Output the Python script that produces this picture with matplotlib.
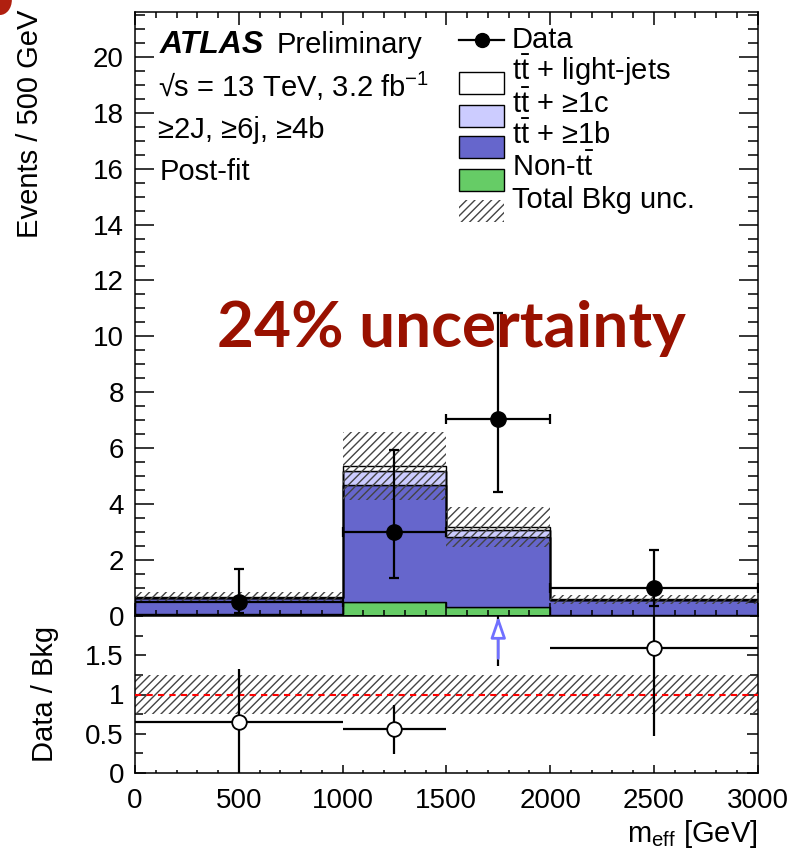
import numpy as np
import matplotlib
matplotlib.use('Agg')
import matplotlib.pyplot as plt
from matplotlib.patches import Rectangle, Ellipse
from matplotlib.ticker import MultipleLocator, FixedLocator, FuncFormatter

plt.rcParams['font.family'] = ['Liberation Sans', 'DejaVu Sans']
plt.rcParams['mathtext.fontset'] = 'custom'
plt.rcParams['mathtext.rm'] = 'Liberation Sans'
plt.rcParams['mathtext.it'] = 'Liberation Sans:italic'
plt.rcParams['mathtext.bf'] = 'Liberation Sans:bold'
plt.rcParams['hatch.linewidth'] = 1.0

# ---------------- data ----------------
bin_edges = [0, 1000, 1500, 2000, 3000]
non_tt   = [0.08, 0.50, 0.33, 0.05]
tt_1b    = [0.55, 4.18, 2.48, 0.51]
tt_1c    = [0.02, 0.50, 0.26, 0.02]
tt_light = [0.04, 0.18, 0.10, 0.02]
bkg_unc  = [0.17, 1.22, 0.72, 0.16]
data     = [0.49, 3.00, 7.04, 0.99]
data_lo  = [0.10, 1.36, 4.43, 0.36]
data_hi  = [1.68, 5.93, 10.82, 2.36]
ratio    = [0.65, 0.56, 2.22, 1.59]
ratio_lo = [0.0, 0.24, 1.36, 0.47]
ratio_hi = [1.32, 0.87, 3.40, 3.70]
ratio_unc = [0.245, 0.245, 0.245, 0.245]
legend_labels = ['Data', r'$\mathrm{t\bar{t}}$ + light-jets', r'$\mathrm{t\bar{t}}$ + ≥1c',
                 r'$\mathrm{t\bar{t}}$ + ≥1b', r'Non-$\mathrm{t\bar{t}}$', 'Total Bkg unc.']

edges = np.array(bin_edges, dtype=float)
centers = 0.5 * (edges[:-1] + edges[1:])
halfw = 0.5 * np.diff(edges)

W, H = 790, 857
fig = plt.figure(figsize=(W / 100, H / 100), dpi=100)
L, R = 135, 757.7
ax = fig.add_axes([L / W, 1 - 616 / H, (R - L) / W, 604 / H])
rax = fig.add_axes([L / W, 1 - 773 / H, (R - L) / W, 157 / H], sharex=ax)

col_non = '#66cc66'
col_1b = '#6666cc'
col_1c = '#ccccff'
col_light = 'white'
hatch_col = '#444444'
HATCH = '////'

# ---------------- stack ----------------
base = np.zeros(len(centers))
for vals, c in [(non_tt, col_non), (tt_1b, col_1b), (tt_1c, col_1c), (tt_light, col_light)]:
    top = base + np.array(vals)
    ax.stairs(top, edges, baseline=base, fill=True, facecolor=c, edgecolor='black', lw=1.0, zorder=1.5)
    base = top
total = base
unc = np.array(bkg_unc)
ax.stairs(total + unc, edges, baseline=total - unc, fill=True, facecolor='none',
          edgecolor=hatch_col, hatch=HATCH, lw=0, zorder=2)

d = np.array(data)
ax.errorbar(centers, d, xerr=halfw, yerr=[d - np.array(data_lo), np.array(data_hi) - d],
            fmt='o', color='black', ms=11, lw=1.6, capsize=3.5, capthick=1.6, zorder=5,
            clip_on=True)

ax.set_xlim(0, 3000)
ax.set_ylim(0, 21.6)
ax.xaxis.set_major_locator(MultipleLocator(500))
ax.xaxis.set_minor_locator(MultipleLocator(100))
ax.yaxis.set_major_locator(MultipleLocator(2))
ax.yaxis.set_minor_locator(MultipleLocator(0.5))
ax.tick_params(axis='both', which='both', direction='in', top=True, right=True, width=1.1)
ax.tick_params(axis='y', which='major', length=14)
ax.tick_params(axis='y', which='minor', length=7)
ax.tick_params(axis='x', which='major', length=9.5)
ax.tick_params(axis='x', which='minor', length=4.5)
ax.tick_params(labelbottom=False, labelsize=20, pad=8)
for s in ax.spines.values():
    s.set_linewidth(1.1)

# ---------------- texts ----------------
fs = 21
ax.text(0.039, 0.9316, 'ATLAS', transform=ax.transAxes, fontsize=23, fontweight='bold',
        fontstyle='italic', va='baseline')
ax.text(0.2275, 0.9316, 'Preliminary', transform=ax.transAxes, fontsize=fs, va='baseline')
ax.text(0.0375, 0.860, '√s = 13 TeV, 3.2 fb$^{-1}$', transform=ax.transAxes, fontsize=fs, va='baseline')
ax.text(0.0375, 0.791, '≥2J, ≥6j, ≥4b', transform=ax.transAxes, fontsize=fs, va='baseline')
ax.text(0.039, 0.722, 'Post-fit', transform=ax.transAxes, fontsize=fs, va='baseline')

ax.text(0.1317, 0.4454, '24% uncertainty', transform=ax.transAxes, fontsize=46,
        fontweight='bold', family=['Lato', 'DejaVu Sans'], color='#991100', va='baseline', zorder=4)

# ---------------- legend (manual) ----------------
bx0, bx1, tx = 0.521, 0.592, 0.605
box_c = [0.9536, 0.8820, 0.8282, 0.7757, 0.7219, 0.6705]
base_y = [0.9396, 0.8866, 0.8336, 0.7815, 0.7285, 0.6755]
bh = 0.0364
ax.plot([bx0, bx1], [box_c[0], box_c[0]], color='black', lw=1.6, transform=ax.transAxes, clip_on=False)
ax.plot([(bx0 + bx1) / 2], [box_c[0]], 'o', color='black', ms=10, transform=ax.transAxes, clip_on=False)
for i, c in zip([1, 2, 3, 4], [col_light, col_1c, col_1b, col_non]):
    ax.add_patch(Rectangle((bx0, box_c[i] - bh / 2), bx1 - bx0, bh, transform=ax.transAxes,
                           facecolor=c, edgecolor='black', lw=1.0, clip_on=False))
ax.add_patch(Rectangle((bx0, box_c[5] - bh / 2), bx1 - bx0, bh, transform=ax.transAxes,
                       facecolor='none', edgecolor=hatch_col, hatch=HATCH, lw=0, clip_on=False))
for lab, y in zip(legend_labels, base_y):
    ax.text(tx, y, lab, transform=ax.transAxes, fontsize=fs, va='baseline')

# ---------------- ratio ----------------
ru = np.array(ratio_unc)
rax.stairs(1 + ru, edges, baseline=1 - ru, fill=True, facecolor='none', edgecolor=hatch_col,
           hatch=HATCH, lw=0, zorder=2)
rax.axhline(1, color='red', ls=(0, (3, 2.5)), lw=1.5, zorder=3)
r = np.array(ratio)
rax.errorbar(centers, r, xerr=halfw, yerr=[r - np.array(ratio_lo), np.array(ratio_hi) - r],
             fmt='o', mfc='white', mec='black', color='black', ms=10.5, mew=1.3, lw=1.6,
             capsize=0, zorder=5)
# off-scale point marker (arrow)
for x, v in zip(centers, r):
    if v > 2.0:
        rax.annotate('', xy=(x, 2.0), xytext=(x, 1.46), xycoords='data',
                     arrowprops=dict(arrowstyle='-|>,head_length=1.3,head_width=0.45',
                                     ec='#7070ff', fc='white', lw=2.0, shrinkA=0, shrinkB=0),
                     annotation_clip=False, zorder=6)

rax.set_ylim(0, 2)
rax.yaxis.set_major_locator(FixedLocator([0, 0.5, 1, 1.5]))
rax.yaxis.set_minor_locator(MultipleLocator(0.25))
rax.yaxis.set_major_formatter(FuncFormatter(lambda v, p: '%g' % v))
rax.tick_params(axis='both', which='both', direction='in', right=True, top=False, width=1.1)
rax.tick_params(axis='y', which='major', length=8)
rax.tick_params(axis='y', which='minor', length=6)
rax.tick_params(axis='x', which='major', length=5.5)
rax.tick_params(axis='x', which='minor', length=2.5)
rax.tick_params(axis='both', labelsize=20)
rax.tick_params(axis='y', pad=8)
rax.tick_params(axis='x', pad=11)
for s in rax.spines.values():
    s.set_linewidth(1.1)

fig.text(30 / W, 1 - 10 / H, 'Events / 500 GeV', rotation=90, ha='center', va='top', fontsize=fs)
fig.text(45 / W, 1 - 694 / H, 'Data / Bkg', rotation=90, ha='center', va='center', fontsize=fs)
fig.text(R / W, 1 - 842 / H, r'm$_{\mathrm{eff}}$ [GeV]', ha='right', va='baseline', fontsize=fs)

fig.patches.append(Ellipse((0.0, 1.0), 0.03, 0.035, transform=fig.transFigure,
                           facecolor='#b02010', edgecolor='none'))

fig.savefig('out.png', dpi=100)
